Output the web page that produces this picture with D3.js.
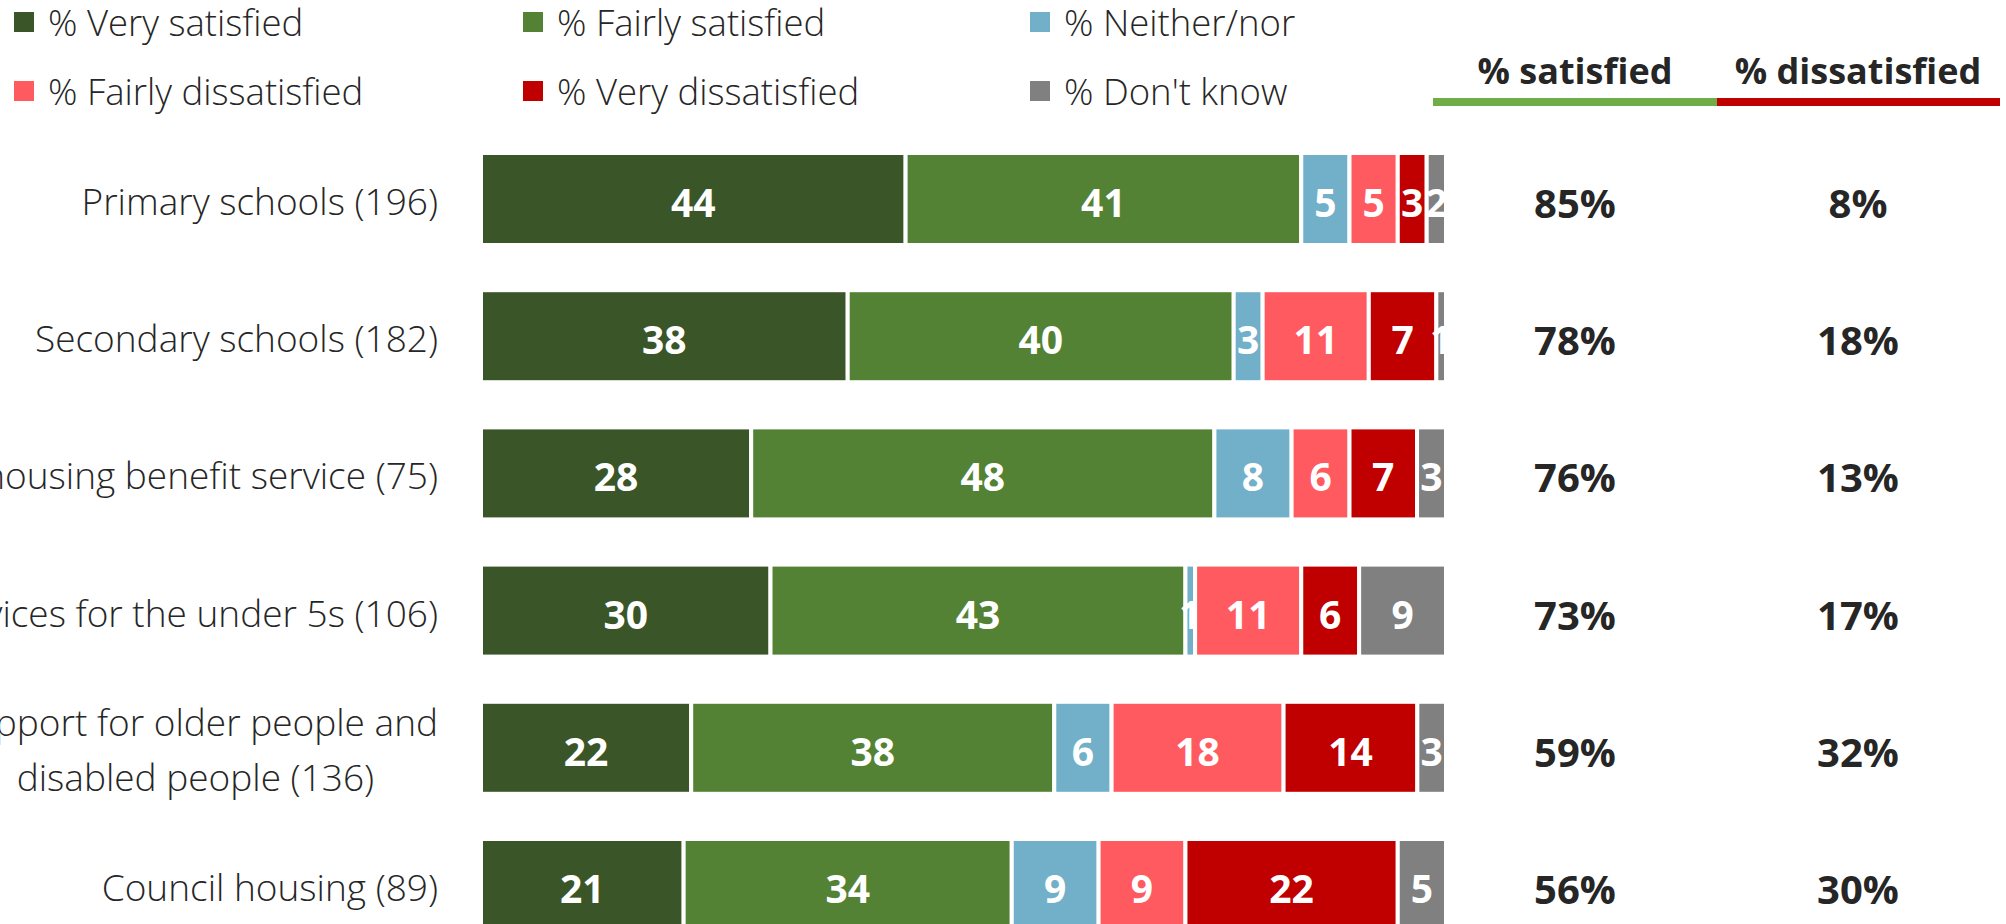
<!DOCTYPE html>
<html>
<head>
<meta charset="utf-8">
<script src="https://cdn.jsdelivr.net/npm/d3@7"></script>
<style>
  body { margin: 0; background: #fff; }
  svg { display: block; }
  .light { font-family: "Segoe UI Light", "Open Sans", "Noto Sans", sans-serif; font-weight: 300; fill: #262626; }
  .bold { font-family: "Segoe UI", "Open Sans", "Noto Sans", sans-serif; font-weight: 700; }
</style>
</head>
<body>
<script>
// Satisfaction with council services, stacked to 100%

// Categories (base sizes in brackets)
const categories = [
	"Primary schools (196)",
	"Secondary schools (182)",
	"The housing benefit service (75)",
	"Services for the under 5s (106)",
	"Support for older people and\ndisabled people (136)",
	"Council housing (89)"
];

// Series names as in the legend
const seriesNames = ["% Very satisfied", "% Fairly satisfied", "% Neither/nor",
	"% Fairly dissatisfied", "% Very dissatisfied", "% Don't know"];
const seriesColors = ["#3a5628", "#548235", "#71b0c8", "#ff5a5f", "#c00000", "#808080"];

// Series values, one per category
const verySatisfied = [44, 38, 28, 30, 22, 21];
const fairlySatisfied = [41, 40, 48, 43, 38, 34];
const neitherNor = [5, 3, 8, 1, 6, 9];
const fairlyDissatisfied = [5, 11, 6, 11, 18, 9];
const veryDissatisfied = [3, 7, 7, 6, 14, 22];
const dontKnow = [2, 1, 3, 9, 3, 5];

// Summary columns
const pctSatisfied = [85, 78, 76, 73, 59, 56];
const pctDissatisfied = [8, 18, 13, 17, 32, 30];

const seriesValues = [verySatisfied, fairlySatisfied, neitherNor, fairlyDissatisfied, veryDissatisfied, dontKnow];

// Build rows for d3.stack
let rows = categories.map((c, i) => {
	let row = { category: c };
	seriesNames.forEach((s, j) => row[s] = seriesValues[j][i]);
	return row;
});

const width = 2006, height = 924;

let svg = d3.select("body").append("svg")
	.attr("width", width)
	.attr("height", height);

// Scales
let x = d3.scaleLinear().domain([0, 1]).range([481, 1446]);
let y = d3.scaleBand().domain(categories).range([130.4, 953.6]).paddingInner(0.3294).paddingOuter(0.1647);
let color = d3.scaleOrdinal().domain(seriesNames).range(seriesColors);

let stacked = d3.stack().keys(seriesNames).offset(d3.stackOffsetExpand)(rows);

// Bars
let layers = svg.append("g").selectAll("g")
	.data(stacked)
	.enter().append("g")
	.attr("fill", d => color(d.key));

layers.selectAll("rect")
	.data(d => d.map(p => ({ key: d.key, p: p })))
	.enter().append("rect")
	.attr("x", d => x(d.p[0]))
	.attr("y", d => y(d.p.data.category))
	.attr("width", d => x(d.p[1]) - x(d.p[0]))
	.attr("height", y.bandwidth())
	.attr("stroke", "#fff")
	.attr("stroke-width", 4);

// Segment labels, clipped to the plot area
svg.append("clipPath").attr("id", "plotclip")
	.append("rect")
	.attr("x", x(0)).attr("y", 0)
	.attr("width", x(1) - x(0) - 2).attr("height", height);

let labels = svg.append("g").attr("clip-path", "url(#plotclip)");
stacked.forEach(layer => {
	labels.selectAll(null)
		.data(layer)
		.enter().append("text")
		.attr("class", "bold")
		.attr("x", d => (x(d[0]) + x(d[1])) / 2)
		.attr("y", d => y(d.data.category) + y.bandwidth() / 2 + 18)
		.attr("text-anchor", "middle")
		.attr("font-size", 39)
		.attr("fill", "#fff")
		.text(d => d.data[layer.key]);
});

// Category labels (right aligned, multi-line ones centred in their block)
let labelRight = 438;
let catGroup = svg.append("g");
categories.forEach(c => {
	let lines = c.split("\n");
	let cy = y(c) + y.bandwidth() / 2;
	let lineH = 55;
	let t = catGroup.append("text")
		.attr("class", "light")
		.attr("font-size", 37);
	lines.forEach((ln, k) => {
		t.append("tspan")
			.attr("y", cy + 16 + (k - (lines.length - 1) / 2) * lineH)
			.text(ln);
	});
	let widths = [];
	t.selectAll("tspan").each(function () { widths.push(this.getComputedTextLength()); });
	let maxW = d3.max(widths);
	t.attr("text-anchor", "middle")
		.selectAll("tspan").attr("x", labelRight - maxW / 2);
});

// Summary columns
let colX = [1575, 1858];
let colHeads = ["% satisfied", "% dissatisfied"];
let colVals = [pctSatisfied, pctDissatisfied];

colHeads.forEach((h, i) => {
	svg.append("text")
		.attr("class", "bold")
		.attr("x", colX[i])
		.attr("y", 84)
		.attr("text-anchor", "middle")
		.attr("font-size", 36)
		.attr("fill", "#262626")
		.text(h);

	svg.selectAll(null)
		.data(colVals[i])
		.enter().append("text")
		.attr("class", "bold")
		.attr("x", colX[i])
		.attr("y", (d, k) => y(categories[k]) + y.bandwidth() / 2 + 19)
		.attr("text-anchor", "middle")
		.attr("font-size", 40)
		.attr("fill", "#262626")
		.text(d => d + "%");
});

// Coloured rule under the column headings
svg.append("rect").attr("x", 1433).attr("y", 98).attr("width", 284).attr("height", 8).attr("fill", "#70ad47");
svg.append("rect").attr("x", 1717).attr("y", 98).attr("width", 283).attr("height", 8).attr("fill", "#c00000");

// Legend, two rows of three
let legendCols = [14, 523, 1030];
let legendRows = [12, 81];
let legend = svg.append("g").selectAll("g")
	.data(seriesNames)
	.enter().append("g")
	.attr("transform", (d, i) => "translate(" + legendCols[i % 3] + "," + legendRows[Math.floor(i / 3)] + ")");

legend.append("rect")
	.attr("width", 20)
	.attr("height", 20)
	.attr("fill", d => color(d));

legend.append("text")
	.attr("class", "light")
	.attr("x", 34)
	.attr("y", 24)
	.attr("font-size", 36.5)
	.text(d => d);
</script>
</body>
</html>
